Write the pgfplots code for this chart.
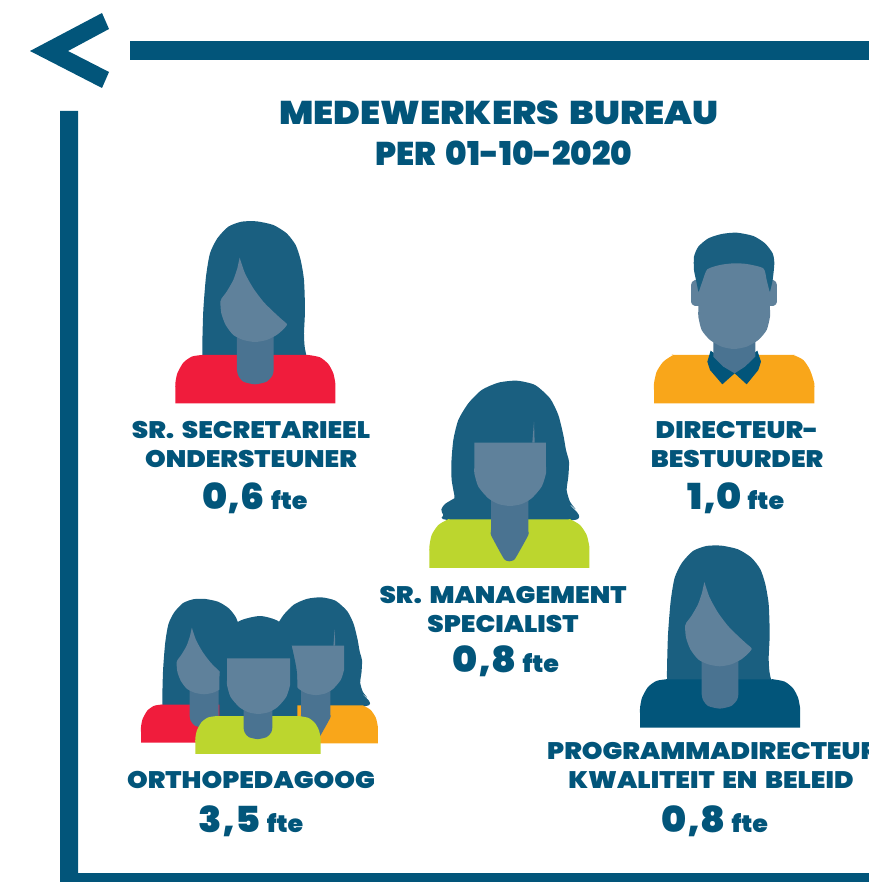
\documentclass[border=0pt]{standalone}
\usepackage{graphicx}
\usepackage{pgfplots}
\usepackage{pgfplotstable}
\usepackage{fontspec}
\pgfplotsset{compat=1.18}
\setmainfont{Poppins}
\newfontfamily\pop[FakeStretch=1.1,WordSpace=1.7]{Poppins Black}
\newfontfamily\popn[FakeStretch=1.06]{Poppins Black}
\definecolor{navy}{HTML}{02557A}
\definecolor{hair}{HTML}{1A5F80}
\definecolor{face}{HTML}{5F819B}
\definecolor{neck}{HTML}{4A7391}
\definecolor{red}{HTML}{F01C3C}
\definecolor{orange}{HTML}{F9A61A}
\definecolor{lime}{HTML}{BCD62E}
\pgfplotstableread{
x y
217 440
217 400
220 300
228 200
240 130
262 85
295 50
335 35
380 34
430 45
470 70
497 105
512 150
522 210
525 300
522 370
524 410
530 440
}\hairA
\pgfplotstableread{
x y
136 580
136 540
136 520
142 490
160 458
185 440
215 435
235 435
515 435
535 435
570 442
595 462
610 490
616 520
616 540
616 580
}\shirtA
\pgfplotstableread{
x y
321 370
321 450
321 480
325 497
340 515
375 523
410 515
427 497
431 480
431 450
431 370
}\neckA
\pgfplotstableread{
x y
329 143
345 190
370 235
400 275
430 305
455 328
471 343
460 358
440 375
410 390
375 396
340 390
310 375
287 345
274 310
271 275
275 265
290 245
310 210
322 175
}\faceA
\pgfplotstableread{
x y
133 375
125 330
124 280
130 210
145 150
175 100
215 60
265 38
320 32
375 45
420 85
445 135
460 195
468 240
477 275
475 320
470 360
480 395
497 418
480 405
493 450
120 450
100 435
94 418
105 402
133 385
}\hairB
\pgfplotstableread{
x y
58 594
58 550
58 530
65 495
85 465
115 448
135 448
460 448
480 448
510 465
530 495
538 530
538 550
538 594
}\shirtB
\pgfplotstableread{
x y
243 390
243 480
243 495
275 555
285 570
298 574
312 570
322 555
355 495
355 480
355 390
}\neckB
\pgfplotstableread{
x y
408 218
408 290
408 310
395 350
365 385
335 402
300 408
265 402
235 385
205 350
193 310
193 290
193 218
}\faceB
\pgfplotstableread{
x y
367 218
372 155
374 218
}\streakB
\pgfplotstableread{
x y
268 385
268 300
270 240
290 150
325 95
390 78
447 95
480 150
500 240
502 300
502 385
}\hairC
\pgfplotstableread{
x y
72 550
72 510
72 490
80 455
100 425
130 405
145 405
475 405
490 405
520 420
540 450
553 490
553 510
553 550
}\shirtM
\pgfplotstableread{
x y
183 195
186 186
195 180
430 180
438 186
441 195
441 245
438 253
430 258
195 258
186 253
183 245
}\earsM
\pgfplotstableread{
x y
205 215
198 180
192 150
192 110
205 80
235 55
275 42
320 38
370 48
405 70
428 100
433 130
428 180
420 215
}\hairM
\pgfplotstableread{
x y
420 215
420 270
420 290
410 330
385 360
350 380
312 387
275 380
240 360
215 330
205 290
205 270
205 215
}\faceM
\pgfplotstableread{
x y
205 220
218 182
232 148
270 135
310 130
350 132
400 145
410 180
420 220
}\faceMtop
\pgfplotstableread{
x y
242 392
232 425
240 450
277 493
314 460
350 493
385 450
393 425
382 392
345 420
314 440
280 420
}\collarM
\pgfplotstableread{
x y
250 360
250 410
280 440
314 460
345 440
376 410
376 360
}\neckM
\pgfplotstableread{
x y
30 51
102 13
109 29
68 51
109 72
102 88
}\arrow
\pgfplotstableread{
x y
130 41.5
869 41.5
869 60
130 60
}\barTop
\pgfplotstableread{
x y
60 111
78 111
78 873
869 873
869 882
60 882
}\barLeft
% #1 table, #2 colour, #3 scale, #4 dx, #5 dy
\newcommand\shape[5]{\addplot[fill=#2,draw=none,forget plot] table[x expr=\thisrowno{0}*#3+#4,y expr=\thisrowno{1}*#3+#5]{#1};}
\newcommand\shapes[5]{\addplot[fill=#2,draw=none,forget plot,smooth,tension=0.4] table[x expr=\thisrowno{0}*#3+#4,y expr=\thisrowno{1}*#3+#5]{#1};}
\newcommand\womanA[5]{\shapes{\hairA}{hair}{#3}{#4}{#5}\shapes{\shirtA}{#1}{#3}{#4}{#5}\shapes{\neckA}{neck}{#3}{#4}{#5}\shapes{\faceA}{face}{#3}{#4}{#5}}
\newcommand\womanB[5]{\shapes{\hairB}{hair}{#3}{#4}{#5}\shapes{\shirtB}{#1}{#3}{#4}{#5}\shapes{\neckB}{neck}{#3}{#4}{#5}\shapes{\faceB}{face}{#3}{#4}{#5}\shape{\streakB}{face}{#3}{#4}{#5}}
\newcommand\lab[4]{\node[anchor=base,inner sep=0pt,text=navy,font=\pop\fontsize{#1}{#1}\selectfont] at (axis cs:#2,#3) {#4};}
\newcommand\fte[3]{\node[anchor=base,inner sep=0pt,text=navy] at (axis cs:#1,#2) {\popn\fontsize{36}{36}\selectfont #3\ \fontsize{24}{24}\selectfont fte};}
\begin{document}
\begin{tikzpicture}
\clip (0,0) rectangle (869bp,882bp);
\begin{axis}[at={(0,0)},anchor=south west,scale only axis,width=869bp,height=882bp,
  xmin=0,xmax=869,ymin=0,ymax=882,y dir=reverse,hide axis,clip=false]
\shape{\arrow}{navy}{1}{0}{0}
\shape{\barTop}{navy}{1}{0}{0}
\shape{\barLeft}{navy}{1}{0}{0}
% person 1
\womanA{red}{}{0.3333}{130}{210}
% director
\shapes{\shirtM}{orange}{0.3333}{630}{220}
\shape{\collarM}{navy}{0.3333}{630}{220}
\shape{\neckM}{neck}{0.3333}{630}{220}
\shape{\earsM}{face}{0.3333}{630}{220}
\shapes{\hairM}{hair}{0.3333}{630}{220}
\shapes{\faceM}{face}{0.3333}{630}{220}
\shapes{\faceMtop}{face}{0.3333}{630}{220}
% middle
\womanB{lime}{}{0.3333}{410}{370}
% right bottom
\womanA{navy}{}{0.3333}{594.7}{534.3}
% group
\womanA{red}{}{0.2633}{105.2}{590}
\womanB{orange}{}{0.26}{238}{589}
\shapes{\hairC}{hair}{0.3333}{130}{590}
\shapes{\shirtA}{lime}{0.261}{159.8}{602.6}
\shapes{\neckA}{neck}{0.261}{159.8}{602.6}
\shapes{\faceB}{face}{0.293}{170.5}{594.4}
% text
\lab{33}{499}{125}{MEDEWERKERS BUREAU}
\lab{33}{504}{165}{\scalebox{0.9}[1]{PER 01-10-2020}}
\lab{24}{251}{438}{SR. SECRETARIEEL}
\lab{24}{251}{467}{ONDERSTEUNER}
\fte{255}{509}{0,6}
\lab{24}{737}{438}{DIRECTEUR-}
\lab{24}{737}{467}{BESTUURDER}
\fte{736}{509}{1,0}
\lab{24}{503}{603}{SR. MANAGEMENT}
\lab{24}{503}{632}{SPECIALIST}
\fte{506}{672}{0,8}
\node[anchor=base west,inner sep=0pt,text=navy,font=\pop\fontsize{24}{24}\selectfont] at (axis cs:547,759) {PROGRAMMADIRECTEUR};
\lab{24}{711}{788}{KWALITEIT EN BELEID}
\fte{715}{832}{0,8}
\lab{24}{251}{788}{ORTHOPEDAGOOG}
\fte{251}{832}{3,5}
\end{axis}
\end{tikzpicture}
\end{document}
